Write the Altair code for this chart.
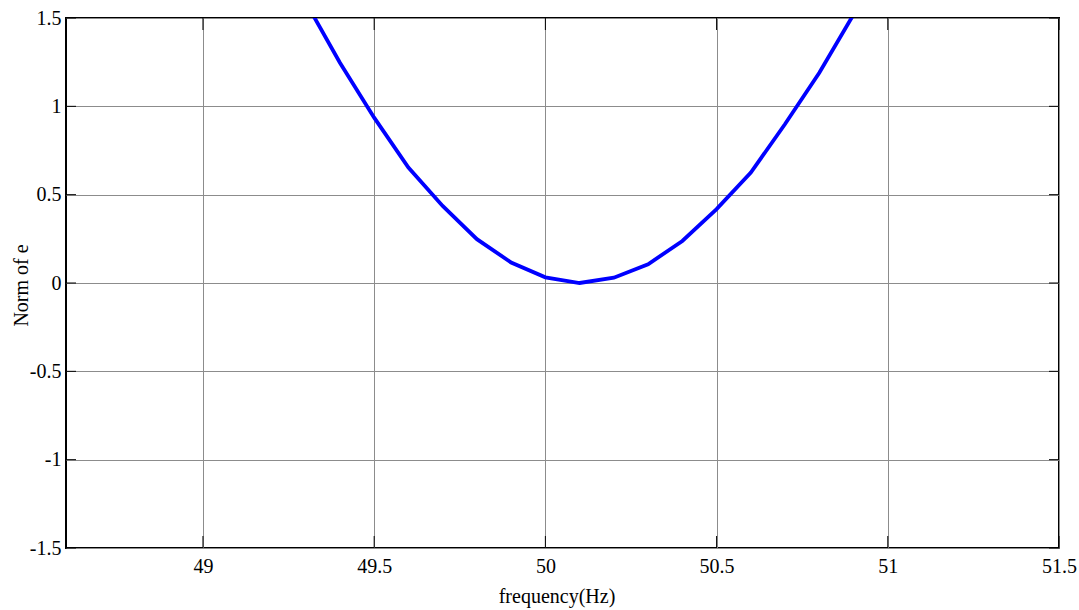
import altair as alt
import pandas as pd

freq = [49.3, 49.4, 49.5, 49.6, 49.7, 49.8, 49.9, 50.0, 50.1, 50.2, 50.3, 50.4, 50.5, 50.6, 50.7, 50.8, 50.9, 51.0]
norm_e = [1.59, 1.247, 0.936, 0.653, 0.436, 0.248, 0.116, 0.032, 0.0, 0.03, 0.106, 0.238, 0.418, 0.625, 0.90, 1.19, 1.52, 1.86]

x_ticks = [49, 49.5, 50, 50.5, 51, 51.5]
y_ticks = [-1.5, -1, -0.5, 0, 0.5, 1, 1.5]

W, H = 993, 530
FONT = "Liberation Serif"

df = pd.DataFrame({"f": freq, "e": norm_e})
xt = pd.DataFrame({"t": x_ticks})
yt = pd.DataFrame({"t": y_ticks})

xscale = alt.Scale(domain=[48.6, 51.5], nice=False, zero=False)
yscale = alt.Scale(domain=[-1.5, 1.5], nice=False, zero=False)

xaxis = alt.Axis(values=x_ticks, title="frequency(Hz)", grid=True, gridColor="#8c8c8c",
                 gridWidth=1, ticks=False, domain=False, labelFont=FONT, labelFontSize=20,
                 labelColor="black", labelPadding=8, titleFont=FONT, titleFontSize=20,
                 titleFontWeight="normal", titleColor="black",
                 titleX=W / 2 - 6, titleY=48, titleBaseline="middle", titleAlign="center",
                 labelFlush=False, labelExpr="'' + datum.value")
yaxis = alt.Axis(values=y_ticks, title="Norm of e", grid=True, gridColor="#8c8c8c",
                 gridWidth=1, ticks=False, domain=False, labelFont=FONT, labelFontSize=20,
                 labelColor="black", labelPadding=5, titleFont=FONT, titleFontSize=20,
                 titleFontWeight="normal", titleColor="black",
                 titleX=-45, titleY=H / 2 + 2, titleAngle=270, titleBaseline="middle",
                 titleAlign="center",
                 labelFlush=False, labelExpr="'' + datum.value")

line = alt.Chart(df).mark_line(color="#0000ff", strokeWidth=3.8, clip=True).encode(
    x=alt.X("f:Q", scale=xscale, axis=xaxis),
    y=alt.Y("e:Q", scale=yscale, axis=yaxis),
)

tl = 12
bottom_ticks = alt.Chart(xt).mark_rule(color="black", strokeWidth=1).encode(
    x=alt.X("t:Q", scale=xscale), y=alt.value(H), y2=alt.value(H - tl))
top_ticks = alt.Chart(xt).mark_rule(color="black", strokeWidth=1).encode(
    x=alt.X("t:Q", scale=xscale), y=alt.value(0), y2=alt.value(tl))
left_ticks = alt.Chart(yt).mark_rule(color="black", strokeWidth=1).encode(
    y=alt.Y("t:Q", scale=yscale), x=alt.value(0), x2=alt.value(10))
right_ticks = alt.Chart(yt).mark_rule(color="black", strokeWidth=1).encode(
    y=alt.Y("t:Q", scale=yscale), x=alt.value(W), x2=alt.value(W - 10))

chart = alt.layer(line, bottom_ticks, top_ticks, left_ticks, right_ticks).properties(
    width=W, height=H,
    autosize=alt.AutoSizeParams(type="none"),
    padding={"left": 66, "top": 18, "right": 20, "bottom": 62},
    background="white",
).configure_view(stroke="black", strokeWidth=2)

chart.save("out.html", embed_options={"renderer": "svg", "actions": False})
